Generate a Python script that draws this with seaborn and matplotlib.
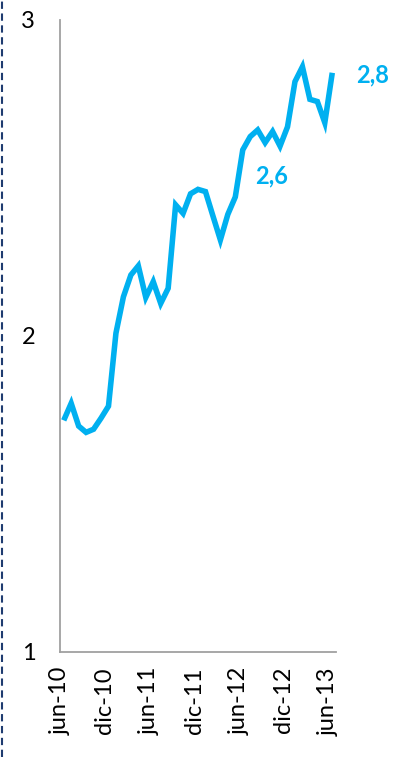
import numpy as np
import pandas as pd
import matplotlib
matplotlib.use("Agg")
import matplotlib.pyplot as plt
import seaborn as sns
from matplotlib.lines import Line2D

# ── Data (monthly, jun-10 .. jun-13) ─────────────────────────────────────────
values = [
    1.733, 1.787, 1.715, 1.695, 1.705, 1.740, 1.778, 2.009, 2.124, 2.193,
    2.222, 2.122, 2.172, 2.103, 2.151, 2.415, 2.388, 2.450, 2.464, 2.457,
    2.380, 2.304, 2.385, 2.440, 2.589, 2.631, 2.652, 2.612, 2.647, 2.601,
    2.662, 2.805, 2.852, 2.749, 2.742, 2.675, 2.833,
]
tick_labels = ["jun-10", "dic-10", "jun-11", "dic-11", "jun-12", "dic-12", "jun-13"]
y_ticks = [1, 2, 3]
labelled_points = [24, 36]   # jun-12 and last month

LINE_COLOR = "#00B0F0"
AXIS_COLOR = "#A0A0A0"

df = pd.DataFrame({"month": np.arange(len(values)) + 0.5, "value": values})

# ── Figure ───────────────────────────────────────────────────────────────────
sns.set_style("white")
plt.rcParams["font.family"] = ["Lato", "DejaVu Sans"]

W, H = 401, 757
fig = plt.figure(figsize=(W / 100, H / 100), dpi=100)
ax = fig.add_axes([60 / W, (H - 652) / H, 276 / W, 632 / H])

sns.lineplot(data=df, x="month", y="value", ax=ax, color=LINE_COLOR,
             linewidth=4.0, solid_joinstyle="miter", solid_capstyle="butt")

ax.set_xlim(0, len(values))
ax.set_ylim(1, 3)
ax.set_xticks(np.arange(0, len(values), 6))
ax.set_xticklabels(tick_labels, rotation=90, fontsize=17)
ax.set_yticks(y_ticks)
ax.set_yticklabels([str(t) for t in y_ticks], fontsize=17)
ax.set_xlabel("")
ax.set_ylabel("")

for side in ("top", "right"):
    ax.spines[side].set_visible(False)
for side in ("left", "bottom"):
    ax.spines[side].set_color(AXIS_COLOR)
    ax.spines[side].set_linewidth(1.3)
ax.tick_params(axis="both", direction="out", length=5.8, width=1.3,
               color=AXIS_COLOR, labelcolor="black")
ax.tick_params(axis="y", pad=12)
ax.tick_params(axis="x", pad=5)

# value labels
offsets = {24: (29, -26), 36: (40, -2)}
for i in labelled_points:
    v = values[i]
    ax.annotate(f"{v:.1f}".replace(".", ","), xy=(i + 0.5, v),
                xytext=offsets[i], textcoords="offset pixels",
                ha="center", va="center", fontsize=17, fontweight="bold",
                color=LINE_COLOR)

# dashed frame edge on the left
fig.add_artist(Line2D([2 / W, 2 / W], [0, 1], transform=fig.transFigure,
                      color="#1F3C70", linewidth=1.5, linestyle=(0, (3.5, 2.2))))

fig.savefig("out.png", dpi=100)
